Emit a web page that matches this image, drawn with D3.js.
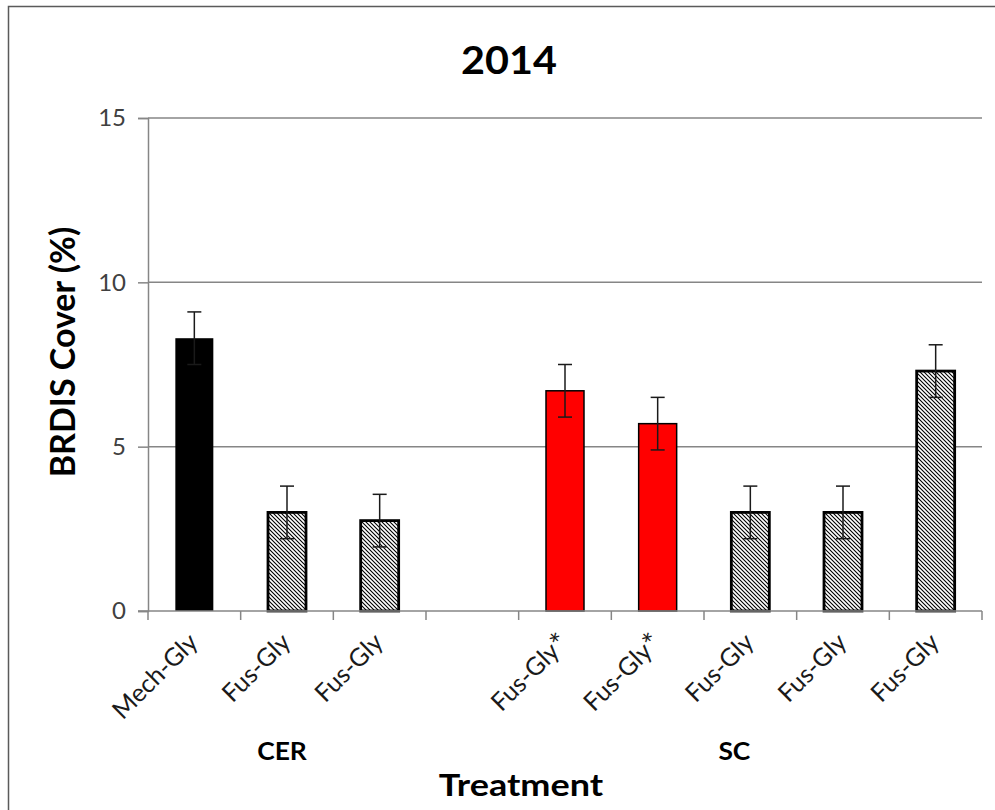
<!DOCTYPE html>
<html>
<head>
<meta charset="utf-8">
<script src="https://cdn.jsdelivr.net/npm/d3@7"></script>
<style>
  html, body { margin: 0; padding: 0; background: #fff; }
  svg { display: block; font-family: Lato, "Open Sans", sans-serif; }
</style>
</head>
<body>
<svg id="chart" width="995" height="810"></svg>
<script>
// Treatments (one slot left empty between the two sites)
const categories = ["Mech-Gly", "Fus-Gly", "Fus-Gly", "", "Fus-Gly*", "Fus-Gly*", "Fus-Gly", "Fus-Gly", "Fus-Gly"];
// Mean BRDIS cover (%) per treatment
const values = [8.3, 3.0, 2.75, null, 6.7, 5.7, 3.0, 3.0, 7.3];
// Standard error of each mean
const errors = [0.8, 0.8, 0.8, null, 0.8, 0.8, 0.8, 0.8, 0.8];
// Fill style per bar
const fills = ["solid", "hatch", "hatch", null, "red", "red", "hatch", "hatch", "hatch"];
// Site groups: first and last slot index covered by each
const groups = [
  { name: "CER", from: 0, to: 2 },
  { name: "SC", from: 4, to: 8 }
];
const yTicks = [0, 5, 10, 15];

const svg = d3.select("#chart");
const plotL = 148, plotR = 982, plotT = 118, plotB = 611;

const x = d3.scaleBand()
  .domain(categories.map((d, i) => i))
  .range([plotL, plotR])
  .paddingInner(0.59)
  .paddingOuter(0.295);

const y = d3.scaleLinear().domain([0, 15]).range([plotB, plotT]);

// Diagonal hatching for the patterned bars
const defs = svg.append("defs");
const pat = defs.append("pattern")
  .attr("id", "hatch")
  .attr("patternUnits", "userSpaceOnUse")
  .attr("width", 4).attr("height", 4);
pat.append("rect").attr("width", 4).attr("height", 4).attr("fill", "#fff");
pat.append("path")
  .attr("d", "M-1,-1 L5,5 M3,-1 L5,1 M-1,3 L1,5")
  .attr("stroke", "#000")
  .attr("stroke-width", 1.1);

// Outer frame of the chart
svg.append("path")
  .attr("d", "M8.5,812 L8.5,6.5 L997,6.5")
  .attr("fill", "none")
  .attr("stroke", "#5a5a5a")
  .attr("stroke-width", 1.5);

// Horizontal text is drawn slightly wide, like the original chart font
function wideText(g, cx, cy, sx) {
  return g.append("text")
    .attr("transform", `translate(${cx},${cy}) scale(${sx},1)`)
    .attr("text-anchor", "middle");
}

// Title
wideText(svg, 509, 74, 1.06)
  .attr("font-size", 39).attr("font-weight", "bold")
  .attr("fill", "#000")
  .text("2014");

// Y axis
const yAxis = d3.axisLeft(y).tickValues(yTicks).tickSize(10).tickPadding(12);
const gy = svg.append("g").attr("transform", `translate(${plotL},0)`).call(yAxis);
gy.select(".domain").attr("stroke", "#868686").attr("stroke-width", 1.5);
gy.selectAll(".tick line").attr("stroke", "#868686").attr("stroke-width", 1.5);
gy.selectAll(".tick text")
  .attr("font-size", 24).attr("fill", "#404040")
  .attr("font-family", "Lato, sans-serif");

// Horizontal gridlines
svg.append("g").selectAll("line")
  .data(yTicks.filter(t => t > 0))
  .join("line")
  .attr("x1", plotL).attr("x2", plotR)
  .attr("y1", d => y(d)).attr("y2", d => y(d))
  .attr("stroke", "#868686").attr("stroke-width", 1.5);

// Bars
const data = categories.map((c, i) => ({ i, c, v: values[i], e: errors[i], f: fills[i] }))
  .filter(d => d.v != null);

svg.append("g").selectAll("rect")
  .data(data)
  .join("rect")
  .attr("x", d => x(d.i))
  .attr("width", x.bandwidth())
  .attr("y", d => y(d.v))
  .attr("height", d => y(0) - y(d.v))
  .attr("fill", d => d.f === "solid" ? "#000" : d.f === "red" ? "#ff0000" : "url(#hatch)")
  .attr("stroke", d => d.f === "solid" ? "none" : "#000")
  .attr("stroke-width", d => d.f === "hatch" ? 2.8 : 1.5);

// Error bars
const eg = svg.append("g").selectAll("g")
  .data(data)
  .join("g")
  .attr("stroke", "#1a1a1a").attr("stroke-width", 1.5);
eg.append("line")
  .attr("x1", d => x(d.i) + x.bandwidth() / 2)
  .attr("x2", d => x(d.i) + x.bandwidth() / 2)
  .attr("y1", d => y(d.v - d.e))
  .attr("y2", d => y(d.v + d.e));
[1, -1].forEach(s => {
  eg.append("line")
    .attr("x1", d => x(d.i) + x.bandwidth() / 2 - 7)
    .attr("x2", d => x(d.i) + x.bandwidth() / 2 + 7)
    .attr("y1", d => y(d.v + s * d.e))
    .attr("y2", d => y(d.v + s * d.e));
});

// X axis line with tick marks at band boundaries
const step = x.step();
const bounds = d3.range(categories.length + 1).map(k => plotL + k * step);
svg.append("line")
  .attr("x1", plotL - 10).attr("x2", plotR)
  .attr("y1", plotB).attr("y2", plotB)
  .attr("stroke", "#868686").attr("stroke-width", 1.5);
svg.append("g").selectAll("line")
  .data(bounds)
  .join("line")
  .attr("x1", d => d).attr("x2", d => d)
  .attr("y1", plotB).attr("y2", plotB + 9)
  .attr("stroke", "#868686").attr("stroke-width", 1.5);

// Category labels, rotated 45 degrees; a trailing asterisk is set larger
const catLabels = svg.append("g").selectAll("text")
  .data(categories.map((c, i) => ({ c, i })).filter(d => d.c))
  .join("text")
  .attr("transform", d => `translate(${x(d.i) + x.bandwidth() / 2 + 5},${plotB + 33}) rotate(-45)`)
  .attr("text-anchor", "end")
  .attr("font-size", 25)
  .attr("fill", "#1a1a1a");
catLabels.append("tspan").text(d => d.c.replace(/\*$/, ""));
catLabels.filter(d => d.c.endsWith("*"))
  .append("tspan")
  .attr("font-size", 30)
  .attr("dy", 2)
  .text("*");

// Site group labels
svg.append("g").selectAll("text")
  .data(groups)
  .join("text")
  .attr("transform", d => `translate(${(x(d.from) + x(d.to) + x.bandwidth()) / 2 + (d.name === "CER" ? -5 : -16)},760) scale(1.1,1)`)
  .attr("text-anchor", "middle")
  .attr("font-size", 24).attr("font-weight", "bold")
  .attr("fill", "#000")
  .text(d => d.name);

// Axis titles
wideText(svg, 521, 796, 1.2)
  .attr("font-size", 30).attr("font-weight", "bold")
  .attr("fill", "#000")
  .text("Treatment");

svg.append("text")
  .attr("transform", "translate(75,352) rotate(-90)")
  .attr("text-anchor", "middle")
  .attr("font-size", 34).attr("font-weight", "bold")
  .attr("fill", "#000")
  .text("BRDIS Cover (%)");
</script>
</body>
</html>
